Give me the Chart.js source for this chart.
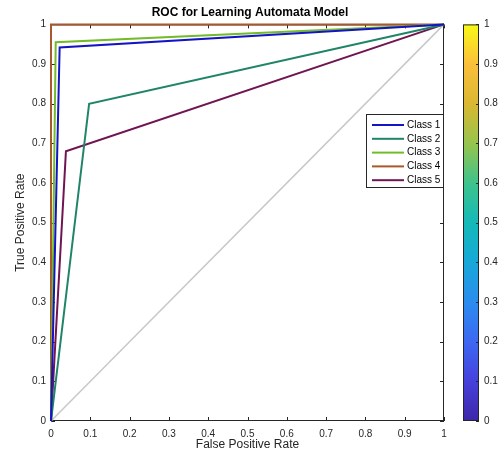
<!DOCTYPE html>
<html>
<head>
<meta charset="utf-8">
<script src="https://cdn.jsdelivr.net/npm/chart.js@4.4.0/dist/chart.umd.min.js"></script>
<style>
  html, body { margin: 0; padding: 0; background: #fff; }
  #wrap { width: 500px; height: 454px; }
</style>
</head>
<body>
<div id="wrap"><canvas id="rocChart" width="500" height="454"></canvas></div>
<script>
// ROC points (false positive rate, true positive rate)
const classNames = ['Class 1', 'Class 2', 'Class 3', 'Class 4', 'Class 5'];
const fprClass1 = [0, 0.022, 1];
const tprClass1 = [0, 0.942, 1];
const fprClass2 = [0, 0.097, 1];
const tprClass2 = [0, 0.80, 1];
const fprClass3 = [0, 0.012, 1];
const tprClass3 = [0, 0.955, 1];
const fprClass4 = [0, 0, 1];
const tprClass4 = [0, 1, 1];
const fprClass5 = [0, 0.038, 1];
const tprClass5 = [0, 0.68, 1];
const fprChance = [0, 1];
const tprChance = [0, 1];
const axisTicks = [0, 0.1, 0.2, 0.3, 0.4, 0.5, 0.6, 0.7, 0.8, 0.9, 1];

const classColors = ['#1414c4', '#1f8468', '#72bb2a', '#a8582c', '#701552'];

function toPoints(xs, ys) {
    return xs.map((x, i) => ({ x: x, y: ys[i] }));
}

// MATLAB style labels: 0, 0.1, ..., 1
function tickLabel(v) {
    return String(Math.round(v * 10) / 10);
}

const classFpr = [fprClass1, fprClass2, fprClass3, fprClass4, fprClass5];
const classTpr = [tprClass1, tprClass2, tprClass3, tprClass4, tprClass5];

const datasets = classNames.map((name, i) => ({
    label: name,
    data: toPoints(classFpr[i], classTpr[i]),
    borderColor: classColors[i],
    borderWidth: 2,
    pointRadius: 0,
    fill: false,
    tension: 0,
    clip: false
}));
datasets.push({
    label: 'chance',
    data: toPoints(fprChance, tprChance),
    borderColor: '#c8c8c8',
    borderWidth: 1.5,
    pointRadius: 0,
    fill: false,
    clip: false
});

// parula-like colour stops for the colorbar
const parulaStops = [
    [0.0, '#3e26a8'], [0.1, '#4640dc'], [0.2, '#3d68f2'], [0.3, '#2b8cef'],
    [0.4, '#17a8d8'], [0.5, '#14b9b8'], [0.6, '#3ec38c'], [0.7, '#97c44c'],
    [0.8, '#dab732'], [0.9, '#fbbf3a'], [1.0, '#f8f916']
];

const fontFamily = '"Liberation Sans", Arial, sans-serif';

// frame, inward tick marks, colorbar and legend
const matlabLook = {
    id: 'matlabLook',
    beforeDatasetsDraw(chart) {
        const { ctx, chartArea: a, scales } = chart;
        ctx.save();
        ctx.strokeStyle = '#262626';
        ctx.lineWidth = 1;
        ctx.strokeRect(a.left + 0.5, a.top + 0.5, a.right - a.left - 1, a.bottom - a.top - 1);
        ctx.beginPath();
        axisTicks.forEach(v => {
            const px = Math.round(scales.x.getPixelForValue(v)) + 0.5;
            ctx.moveTo(px, a.bottom); ctx.lineTo(px, a.bottom - 4);
            ctx.moveTo(px, a.top); ctx.lineTo(px, a.top + 4);
            const py = Math.round(scales.y.getPixelForValue(v)) + 0.5;
            ctx.moveTo(a.left, py); ctx.lineTo(a.left + 4, py);
            ctx.moveTo(a.right, py); ctx.lineTo(a.right - 4, py);
        });
        ctx.stroke();
        ctx.restore();
    },
    afterDraw(chart) {
        const { ctx, scales } = chart;
        ctx.save();
        // colorbar
        const cb = scales.yc;
        const top = cb.getPixelForValue(1);
        const bottom = cb.getPixelForValue(0);
        const x0 = 463, x1 = 479;
        const grad = ctx.createLinearGradient(0, bottom, 0, top);
        parulaStops.forEach(s => grad.addColorStop(s[0], s[1]));
        ctx.fillStyle = grad;
        ctx.fillRect(x0, top, x1 - x0, bottom - top);
        ctx.strokeStyle = '#262626';
        ctx.lineWidth = 1;
        ctx.strokeRect(x0 + 0.5, top + 0.5, x1 - x0 - 1, bottom - top - 1);
        ctx.beginPath();
        cb.ticks.forEach(t => {
            const py = Math.round(cb.getPixelForValue(t.value)) + 0.5;
            ctx.moveTo(x1, py); ctx.lineTo(x1 - 3, py);
        });
        ctx.stroke();

        // legend
        const lx = 366, ly = 114, lw = 77, lh = 73;
        ctx.fillStyle = '#fff';
        ctx.fillRect(lx, ly, lw, lh);
        ctx.strokeStyle = '#262626';
        ctx.strokeRect(lx + 0.5, ly + 0.5, lw, lh);
        ctx.font = '10px ' + fontFamily;
        ctx.textBaseline = 'middle';
        classNames.forEach((name, i) => {
            const y = ly + 11 + i * 13.8;
            ctx.strokeStyle = classColors[i];
            ctx.lineWidth = 2;
            ctx.beginPath();
            ctx.moveTo(lx + 6, y); ctx.lineTo(lx + 38, y);
            ctx.stroke();
            ctx.fillStyle = '#000';
            ctx.fillText(name, lx + 41, y);
        });
        ctx.restore();
    }
};

const ctx = document.getElementById('rocChart').getContext('2d');
const chart = new Chart(ctx, {
    type: 'line',
    data: { datasets: datasets },
    options: {
        responsive: false,
        animation: false,
        layout: { padding: 0 },
        plugins: {
            legend: { display: false },
            tooltip: { enabled: false },
            title: {
                display: true,
                text: 'ROC for Learning Automata Model',
                color: '#000',
                font: { family: fontFamily, size: 12, weight: 'bold' },
                padding: { top: 5, bottom: 5 }
            }
        },
        scales: {
            x: {
                type: 'linear',
                min: 0,
                max: 1,
                grid: { display: false, drawTicks: false },
                border: { display: false },
                ticks: {
                    stepSize: 0.1,
                    maxRotation: 0,
                    padding: 7,
                    color: '#262626',
                    font: { family: fontFamily, size: 10 },
                    callback: tickLabel
                },
                title: {
                    display: true,
                    text: 'False Positive Rate',
                    color: '#262626',
                    padding: { top: 0, bottom: 2 },
                    font: { family: fontFamily, size: 12 }
                },
                afterFit(scale) { scale.height = 33; }
            },
            y: {
                type: 'linear',
                min: 0,
                max: 1,
                grid: { display: false, drawTicks: false },
                border: { display: false },
                ticks: {
                    stepSize: 0.1,
                    padding: 5,
                    color: '#262626',
                    font: { family: fontFamily, size: 10 },
                    callback: tickLabel
                },
                title: {
                    display: true,
                    text: 'True Positive Rate',
                    color: '#262626',
                    padding: { top: 13, bottom: 0 },
                    font: { family: fontFamily, size: 12 }
                },
                afterFit(scale) { scale.width = 51; }
            },
            yc: {
                type: 'linear',
                position: 'right',
                min: 0,
                max: 1,
                grid: {
                    display: true,
                    drawOnChartArea: false,
                    drawTicks: true,
                    tickLength: 35,
                    tickColor: 'rgba(0,0,0,0)'
                },
                border: { display: false },
                ticks: {
                    stepSize: 0.1,
                    padding: 5,
                    color: '#262626',
                    font: { family: fontFamily, size: 10 },
                    callback: tickLabel
                },
                afterFit(scale) { scale.width = 56; }
            }
        }
    },
    plugins: [matlabLook]
});
</script>
</body>
</html>
